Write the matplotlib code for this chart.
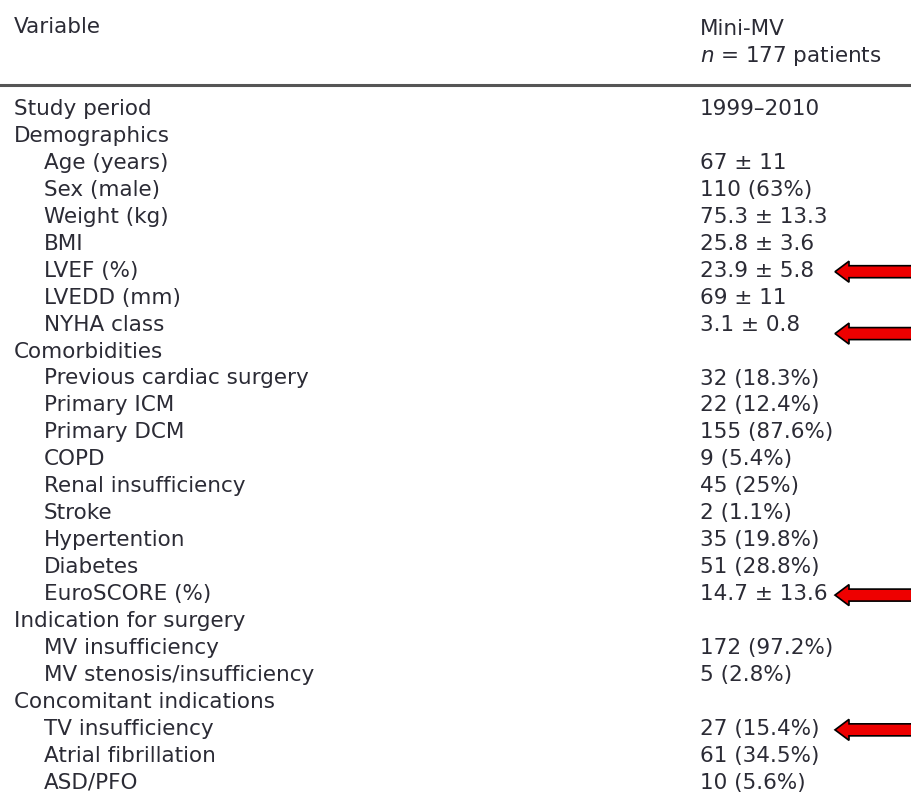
import matplotlib.pyplot as plt
from matplotlib.patches import FancyArrow

# table content
labels = ["Study period", "Demographics", "Age (years)", "Sex (male)", "Weight (kg)", "BMI",
          "LVEF (%)", "LVEDD (mm)", "NYHA class", "Comorbidities", "Previous cardiac surgery",
          "Primary ICM", "Primary DCM", "COPD", "Renal insufficiency", "Stroke", "Hypertention",
          "Diabetes", "EuroSCORE (%)", "Indication for surgery", "MV insufficiency",
          "MV stenosis/insufficiency", "Concomitant indications", "TV insufficiency",
          "Atrial fibrillation", "ASD/PFO"]
values = ["1999\u20132010", "", "67 \u00b1 11", "110 (63%)", "75.3 \u00b1 13.3", "25.8 \u00b1 3.6",
          "23.9 \u00b1 5.8", "69 \u00b1 11", "3.1 \u00b1 0.8", "", "32 (18.3%)", "22 (12.4%)",
          "155 (87.6%)", "9 (5.4%)", "45 (25%)", "2 (1.1%)", "35 (19.8%)", "51 (28.8%)",
          "14.7 \u00b1 13.6", "", "172 (97.2%)", "5 (2.8%)", "", "27 (15.4%)", "61 (34.5%)",
          "10 (5.6%)"]
groups = ["Study period", "Demographics", "Comorbidities", "Indication for surgery",
          "Concomitant indications"]
marked = ["LVEF (%)", "NYHA class", "EuroSCORE (%)", "TV insufficiency"]

fig = plt.figure(figsize=(9.12, 7.94), dpi=100)
ax = fig.add_axes([0, 0, 1, 1])
ax.set_xlim(0, 912)
ax.set_ylim(794, 0)
ax.axis('off')

col = '#2b2b35'
fnt = dict(family='DejaVu Sans', fontsize=15.5, color=col, va='center')

ax.text(14, 27, "Variable", **fnt)
ax.text(700, 29, "Mini-MV", **fnt)
ax.text(700, 56, "$n$ = 177 patients", **fnt)
ax.plot([0, 912], [85, 85], color='#555555', lw=2.2)

y0, dy = 109, 26.95
for i, (lab, val) in enumerate(zip(labels, values)):
    y = y0 + i * dy
    x = 14 if lab in groups else 44
    ax.text(x, y, lab, **fnt)
    ax.text(700, y, val, **fnt)
    if lab in marked:
        ya = y + (9 if lab == "NYHA class" else 1)
        ax.add_patch(FancyArrow(912, ya, -77, 0, width=12, head_width=21, head_length=14,
                                length_includes_head=True, fc='#ee0000', ec='black', lw=1.2))

fig.savefig('out.png', dpi=100)
